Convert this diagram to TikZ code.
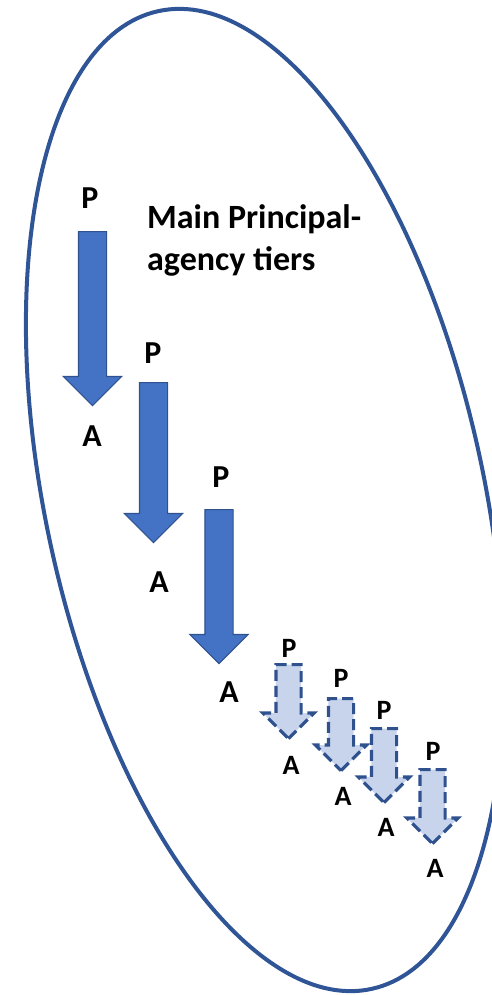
\documentclass[tikz,border=0pt]{standalone}
\usepackage{fontspec}
\setmainfont{Carlito}
\usetikzlibrary{shapes.arrows}
\definecolor{ringblue}{RGB}{47,85,151}
\definecolor{tierblue}{RGB}{68,114,196}
\definecolor{tieredge}{RGB}{47,82,143}
\definecolor{subfill}{RGB}{199,212,236}
\begin{document}
\begin{tikzpicture}[x=1pt,y=-1pt,
  tier/.style={shape=single arrow, rotate=-90, anchor=tail, draw=tieredge,
    line width=1.2pt, fill=tierblue, inner xsep=0pt, inner ysep=13.5pt,
    single arrow head extend=15pt, minimum height=#1},
  subtier/.style={shape=single arrow, rotate=-90, anchor=tail, draw=tieredge,
    line width=3.2pt, dash pattern=on 11pt off 5pt, fill=subfill, inner xsep=0pt,
    inner ysep=11pt, single arrow head extend=13pt, minimum height=#1},
  biglabel/.style={font=\fontsize{32}{32}\selectfont\bfseries, inner sep=0pt},
  smalllabel/.style={font=\fontsize{28}{28}\selectfont\bfseries, inner sep=0pt},
  title/.style={font=\fontsize{34}{42}\selectfont\bfseries, align=left, inner sep=0pt}
  ]
  \useasboundingbox (0,0) rectangle (492,995);
  % outer ring
  \draw[ringblue, line width=4pt, rotate around={12.3:(265,500)}]
    (265,500) ellipse [x radius=219pt, y radius=500.4pt];
  \node[title, anchor=base west] (title) at (147,270) {Main Principal-\\agency tiers};
  % main tiers
  \node[tier=174pt] (t1) at (92.5,231) {};
  \node[tier=160pt] (t2) at (153.5,382) {};
  \node[tier=154pt] (t3) at (219,509) {};
  \node[biglabel] (p1) at (90,198) {P};
  \node[biglabel] (a1) at (92,436) {A};
  \node[biglabel] (p2) at (153,353) {P};
  \node[biglabel] (a2) at (159,582) {A};
  \node[biglabel] (p3) at (221,477) {P};
  \node[biglabel] (a3) at (229,692) {A};
  % sub tiers
  \node[subtier=74pt] (s1) at (288.5,663) {};
  \node[subtier=72pt] (s2) at (341,697) {};
  \node[subtier=74pt] (s3) at (384,727) {};
  \node[subtier=74pt] (s4) at (432.5,768) {};
  \node[smalllabel] (sp1) at (289,648) {P};
  \node[smalllabel] (sa1) at (291,765) {A};
  \node[smalllabel] (sp2) at (341,678) {P};
  \node[smalllabel] (sa2) at (343,796) {A};
  \node[smalllabel] (sp3) at (384,710) {P};
  \node[smalllabel] (sa3) at (386,827) {A};
  \node[smalllabel] (sp4) at (433,751) {P};
  \node[smalllabel] (sa4) at (435,868) {A};
\end{tikzpicture}
\end{document}
